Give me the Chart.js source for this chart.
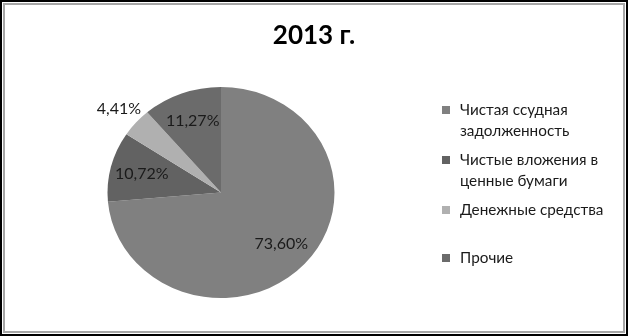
<!DOCTYPE html>
<html>
<head>
<meta charset="utf-8">
<script src="https://cdn.jsdelivr.net/npm/chart.js@4/dist/chart.umd.min.js"></script>
<style>
  html, body { margin: 0; padding: 0; background: #fff; }
  #frame {
    position: relative; width: 628px; height: 336px; box-sizing: border-box;
    border: 2px solid #000; background: #fff;
    font-family: Lato, "Open Sans", sans-serif;
  }
  #frame::after {
    content: ''; position: absolute; left: 1px; top: 1px; right: 1px; bottom: 1px;
    border: 2px solid #a6a6a6; pointer-events: none;
  }
  #chart { position: absolute; left: -2px; top: -2px; }
  #title {
    position: absolute; left: 0; right: 0; top: 16px; text-align: center;
    font-weight: bold; font-size: 26px; color: #000;
  }
  #legend { position: absolute; left: 439px; top: 97px; font-size: 15.3px; color: #1a1a1a; }
  .item { position: absolute; left: 0; white-space: nowrap; line-height: 21px; }
  .box { position: absolute; left: 1px; top: 7px; width: 8px; height: 8px; }
  .txt { position: absolute; left: 19px; top: 0; }
</style>
</head>
<body>
<div id="frame">
  <canvas id="chart" width="628" height="336"></canvas>
  <div id="title">2013 г.</div>
  <div id="legend"></div>
</div>
<script>
const labels = ['Чистая ссудная задолженность', 'Чистые вложения в ценные бумаги', 'Денежные средства', 'Прочие'];
const legendLines = [['Чистая ссудная', 'задолженность'], ['Чистые вложения в', 'ценные бумаги'], ['Денежные средства'], ['Прочие']];
const values = [73.60, 10.72, 4.41, 11.27];
const colors = ['#808080', '#626262', '#b0b0b0', '#6b6b6b'];

// the original pie is slightly squashed vertically
const squash = 0.93;

// legend (Excel-style, wrapped text)
const legendTops = [0, 50, 100, 148];
const legendEl = document.getElementById('legend');
legendLines.forEach((lines, i) => {
    const item = document.createElement('div');
    item.className = 'item';
    item.style.top = legendTops[i] + 'px';
    item.innerHTML = `<div class="box" style="background:${colors[i]}"></div><div class="txt">${lines.join('<br>')}</div>`;
    legendEl.appendChild(item);
});

const squashPie = {
    id: 'squashPie',
    beforeDatasetsDraw(chart) {
        const arc = chart.getDatasetMeta(0).data[0];
        const ctx = chart.ctx;
        ctx.save();
        ctx.translate(arc.x, arc.y);
        ctx.scale(1, squash);
        ctx.translate(-arc.x, -arc.y);
    },
    afterDatasetsDraw(chart) {
        chart.ctx.restore();
    }
};

const pctLabels = {
    id: 'pctLabels',
    afterDatasetsDraw(chart) {
        const ctx = chart.ctx;
        const meta = chart.getDatasetMeta(0);
        ctx.save();
        ctx.font = '16px Lato, "Open Sans", sans-serif';
        ctx.fillStyle = '#1a1a1a';
        ctx.textAlign = 'center';
        ctx.textBaseline = 'middle';
        meta.data.forEach((arc, i) => {
            const p = arc.getProps(['x', 'y', 'startAngle', 'endAngle', 'outerRadius']);
            const mid = (p.startAngle + p.endAngle) / 2;
            const f = values[i] < 5 ? 1.2 : 0.72;
            const x = p.x + Math.cos(mid) * p.outerRadius * f;
            const y = p.y + Math.sin(mid) * p.outerRadius * f * squash;
            ctx.fillText(values[i].toFixed(2).replace('.', ',') + '%', x, y);
        });
        ctx.restore();
    }
};

new Chart(document.getElementById('chart'), {
    type: 'pie',
    data: {
        labels,
        datasets: [{
            data: values,
            backgroundColor: colors,
            borderWidth: 0
        }]
    },
    options: {
        responsive: false,
        animation: false,
        layout: { padding: { left: 107.5, right: 293.5, top: 79, bottom: 30 } },
        plugins: {
            legend: { display: false },
            tooltip: { enabled: false }
        }
    },
    plugins: [squashPie, pctLabels]
});
</script>
</body>
</html>
